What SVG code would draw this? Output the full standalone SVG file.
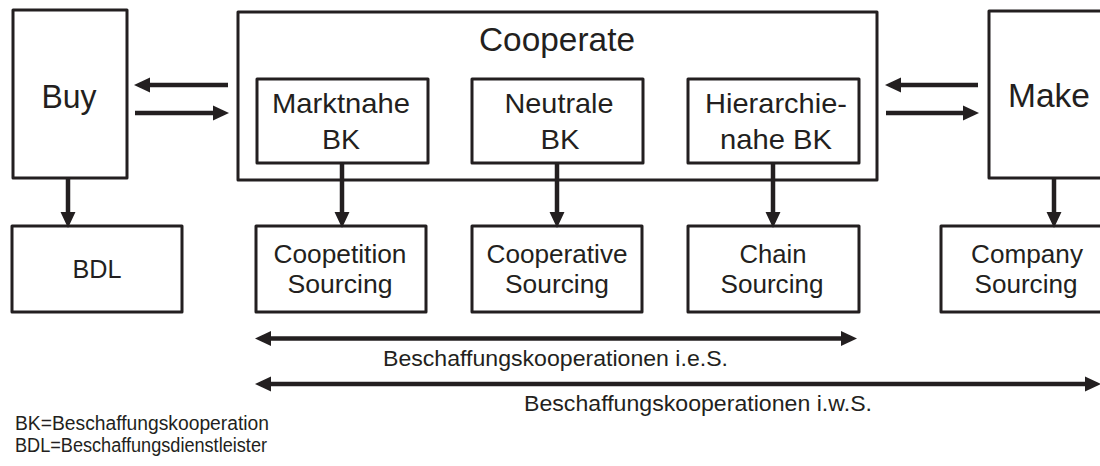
<svg xmlns="http://www.w3.org/2000/svg" width="1100" height="466" viewBox="0 0 1100 466">
  <defs>
    <style>
      .box { fill: #ffffff; stroke: #231f20; stroke-width: 3; stroke-linejoin: round; }
      .conn { stroke: #231f20; stroke-width: 4.5; fill: none; }
      text { font-family: "Liberation Sans", Arial, sans-serif; fill: #231f20; text-anchor: middle; }
      .big { font-size: 32.5px; }
      .mid { font-size: 28.5px; }
      .sm { font-size: 26px; }
      .lbl { font-size: 22.5px; }
      .leg { font-size: 19.5px; text-anchor: start; }
    </style>
    <marker id="head" markerUnits="userSpaceOnUse" markerWidth="16" markerHeight="16" refX="0" refY="7" orient="auto-start-reverse" viewBox="0 0 15 14">
      <path d="M0,0 L15,7 L0,14 Z" fill="#231f20"/>
    </marker>
  </defs>

  <!-- upper row -->
  <g id="buy">
    <rect class="box" x="13" y="10" width="114" height="168"/>
    <text class="big" x="69" y="108" textLength="55" lengthAdjust="spacingAndGlyphs">Buy</text>
  </g>
  <g id="cooperate">
    <rect class="box" x="238" y="12" width="639" height="168"/>
    <text class="big" x="557" y="51" textLength="156" lengthAdjust="spacingAndGlyphs">Cooperate</text>
  </g>
  <g id="marktnahe">
    <rect class="box" x="257" y="79" width="171" height="84"/>
    <text class="mid" x="341" y="113" textLength="138" lengthAdjust="spacingAndGlyphs">Marktnahe</text>
    <text class="mid" x="341" y="149" textLength="38" lengthAdjust="spacingAndGlyphs">BK</text>
  </g>
  <g id="neutrale">
    <rect class="box" x="472" y="79" width="171" height="84"/>
    <text class="mid" x="559" y="113" textLength="109" lengthAdjust="spacingAndGlyphs">Neutrale</text>
    <text class="mid" x="560" y="149" textLength="39" lengthAdjust="spacingAndGlyphs">BK</text>
  </g>
  <g id="hierarchienahe">
    <rect class="box" x="688" y="79" width="171" height="84"/>
    <text class="mid" x="776" y="113" textLength="142" lengthAdjust="spacingAndGlyphs">Hierarchie-</text>
    <text class="mid" x="776" y="149" textLength="112" lengthAdjust="spacingAndGlyphs">nahe BK</text>
  </g>
  <g id="make">
    <rect class="box" x="989" y="11" width="125" height="167"/>
    <text class="big" x="1049" y="107" textLength="82" lengthAdjust="spacingAndGlyphs">Make</text>
  </g>

  <!-- lower row -->
  <g id="bdl">
    <rect class="box" x="12" y="226" width="170" height="86"/>
    <text class="sm" x="97" y="278" textLength="49" lengthAdjust="spacingAndGlyphs">BDL</text>
  </g>
  <g id="coopetition">
    <rect class="box" x="256" y="226" width="170" height="86"/>
    <text class="sm" x="340" y="263" textLength="133" lengthAdjust="spacingAndGlyphs">Coopetition</text>
    <text class="sm" x="340" y="293" textLength="105" lengthAdjust="spacingAndGlyphs">Sourcing</text>
  </g>
  <g id="cooperative">
    <rect class="box" x="472" y="226" width="170" height="86"/>
    <text class="sm" x="557" y="263" textLength="141" lengthAdjust="spacingAndGlyphs">Cooperative</text>
    <text class="sm" x="557" y="293" textLength="104" lengthAdjust="spacingAndGlyphs">Sourcing</text>
  </g>
  <g id="chain">
    <rect class="box" x="688" y="226" width="171" height="86"/>
    <text class="sm" x="773" y="263" textLength="67" lengthAdjust="spacingAndGlyphs">Chain</text>
    <text class="sm" x="772" y="293" textLength="103" lengthAdjust="spacingAndGlyphs">Sourcing</text>
  </g>
  <g id="company">
    <rect class="box" x="941" y="226" width="171" height="86"/>
    <text class="sm" x="1027" y="263" textLength="112" lengthAdjust="spacingAndGlyphs">Company</text>
    <text class="sm" x="1026" y="293" textLength="103" lengthAdjust="spacingAndGlyphs">Sourcing</text>
  </g>

  <!-- connectors -->
  <g id="connectors">
    <line class="conn" x1="228" y1="85" x2="150" y2="85" marker-end="url(#head)"/>
    <line class="conn" x1="135" y1="113" x2="213" y2="113" marker-end="url(#head)"/>
    <line class="conn" x1="978" y1="85" x2="901" y2="85" marker-end="url(#head)"/>
    <line class="conn" x1="886" y1="113" x2="963" y2="113" marker-end="url(#head)"/>

    <line class="conn" x1="68" y1="178" x2="68" y2="212" marker-end="url(#head)"/>
    <line class="conn" x1="342" y1="163" x2="342" y2="212" marker-end="url(#head)"/>
    <line class="conn" x1="557" y1="163" x2="557" y2="212" marker-end="url(#head)"/>
    <line class="conn" x1="773" y1="163" x2="773" y2="212" marker-end="url(#head)"/>
    <line class="conn" x1="1054" y1="178" x2="1054" y2="212" marker-end="url(#head)"/>

    <line class="conn" x1="271" y1="338.5" x2="841" y2="338.5" marker-start="url(#head)" marker-end="url(#head)"/>
    <line class="conn" x1="271" y1="384" x2="1085" y2="384" marker-start="url(#head)" marker-end="url(#head)"/>
  </g>

  <!-- range labels -->
  <text class="lbl" x="555.5" y="366" textLength="345" lengthAdjust="spacingAndGlyphs">Beschaffungskooperationen i.e.S.</text>
  <text class="lbl" x="698" y="411" textLength="348" lengthAdjust="spacingAndGlyphs">Beschaffungskooperationen i.w.S.</text>

  <!-- abbreviations -->
  <text class="leg" x="15" y="430" textLength="254" lengthAdjust="spacingAndGlyphs">BK=Beschaffungskooperation</text>
  <text class="leg" x="15" y="452" textLength="252" lengthAdjust="spacingAndGlyphs">BDL=Beschaffungsdienstleister</text>
</svg>
